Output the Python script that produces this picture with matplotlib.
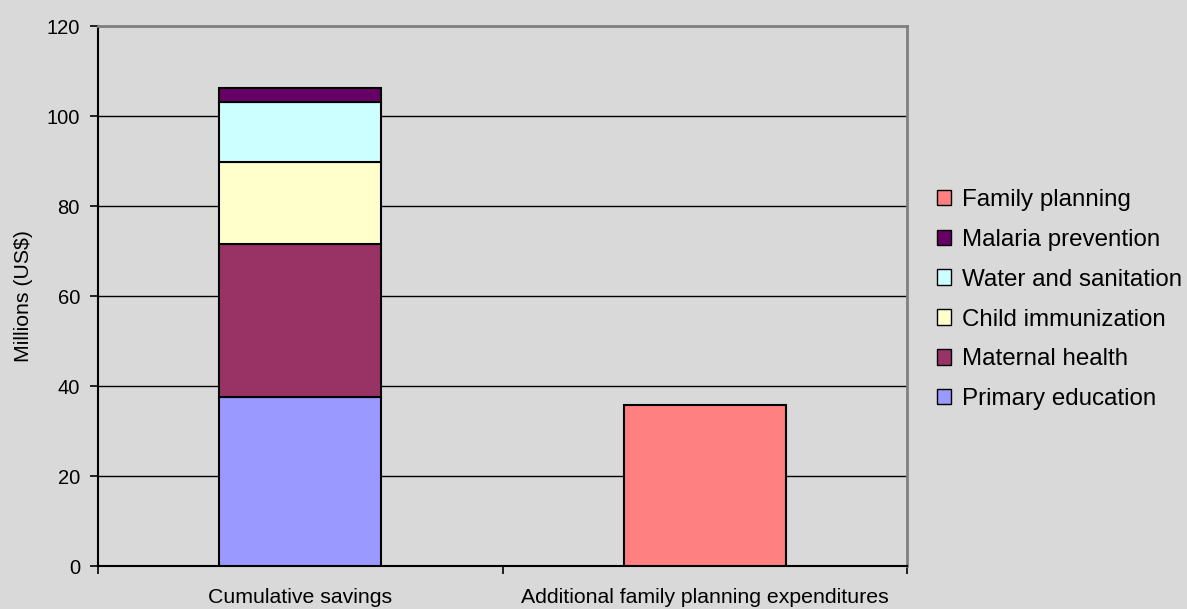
import matplotlib
matplotlib.use("Agg")
import matplotlib.pyplot as plt
import numpy as np
from matplotlib.patches import Patch

plt.rcParams["font.family"] = ["Liberation Sans", "DejaVu Sans"]

categories = ["Cumulative savings", "Additional family planning expenditures"]
# stacked components of the first bar (bottom to top)
savings_labels = ["Primary education", "Maternal health", "Child immunization",
                  "Water and sanitation", "Malaria prevention"]
savings_values = [37.6, 34.0, 18.2, 13.3, 3.1]
savings_colors = ["#9999FF", "#993366", "#FFFFCC", "#CCFFFF", "#660066"]
fp_label = "Family planning"
fp_value = 35.8
fp_color = "#FF8080"

BG = "#D9D9D9"

fig = plt.figure(figsize=(11.87, 6.09), dpi=100, facecolor=BG)
ax = fig.add_axes([0.0826, 0.0706, 0.6815, 0.8867], facecolor=BG)

x = np.arange(len(categories))
w = 0.4
bottom = 0.0
for lab, val, col in zip(savings_labels, savings_values, savings_colors):
    ax.bar(x[0], val, w, bottom=bottom, color=col, edgecolor="black",
           linewidth=1.5, zorder=3)
    bottom += val
ax.bar(x[1], fp_value, w, color=fp_color, edgecolor="black", linewidth=1.5, zorder=3)

ax.set_xlim(-0.5, 1.5)
ax.set_ylim(0, 120)
ax.set_yticks(np.arange(0, 121, 20))
ax.yaxis.grid(True, color="black", linewidth=1, zorder=1)
ax.set_axisbelow(True)
ax.tick_params(axis="y", length=6, width=1.2, color="black", pad=7, labelsize=14.5)

ax.set_xticks(x)
ax.set_xticklabels(categories, fontsize=15.3)
ax.tick_params(axis="x", which="major", length=0, pad=16)
ax.set_xticks([-0.5, 0.5, 1.5], minor=True)
ax.tick_params(axis="x", which="minor", length=6, width=1.2, color="black")

ax.set_ylabel("Millions (US$)", fontsize=15.3, labelpad=10)

for s in ["top", "right"]:
    ax.spines[s].set_color("#808080")
    ax.spines[s].set_linewidth(2)
for s in ["left", "bottom"]:
    ax.spines[s].set_color("black")
    ax.spines[s].set_linewidth(1.5)

handles = [Patch(facecolor=fp_color, edgecolor="black", label=fp_label)]
for lab, col in zip(savings_labels[::-1], savings_colors[::-1]):
    handles.append(Patch(facecolor=col, edgecolor="black", label=lab))
fig.legend(handles=handles, loc="center left", bbox_to_anchor=(0.781, 0.508),
           frameon=False, fontsize=17.4, handlelength=0.6, handleheight=0.6,
           handletextpad=0.45, labelspacing=0.74, borderaxespad=0)

fig.savefig("out.png", dpi=100, facecolor=BG)
